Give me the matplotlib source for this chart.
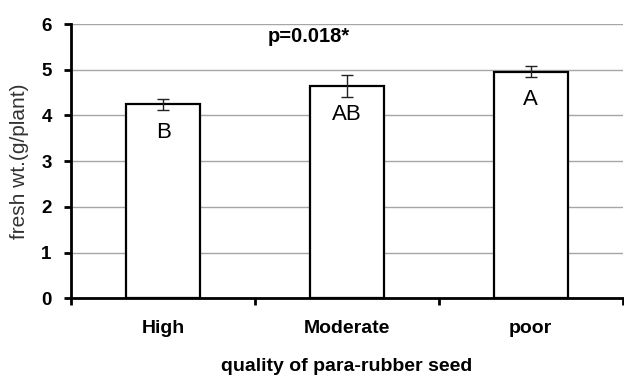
import numpy as np
import matplotlib.pyplot as plt
from matplotlib.ticker import FixedLocator

plt.rcParams['font.family'] = ['Liberation Sans', 'DejaVu Sans']

# seed quality groups, mean fresh weight and standard error
quality = ['High', 'Moderate', 'poor']
fresh_wt = [4.25, 4.65, 4.96]
sem = [0.12, 0.24, 0.12]
groups = ['B', 'AB', 'A']
p_text = 'p=0.018*'

fig = plt.figure(figsize=(6.24, 3.77), dpi=100)
ax = fig.add_axes([0.114, 0.209, 0.884, 0.727])

x = np.arange(len(quality))
ax.bar(x, fresh_wt, width=0.40, color='white', edgecolor='black',
       linewidth=1.6, zorder=3)
ax.errorbar(x, fresh_wt, yerr=sem, fmt='none', ecolor='#222222',
            elinewidth=1.0, capsize=4.5, capthick=1.0, zorder=4)

# significance letters just below each bar top
for xi, v, g in zip(x, fresh_wt, groups):
    ax.text(xi, v - 0.62, g, ha='center', va='center', fontsize=16,
            color='black', zorder=5)

ax.text(0.79, 5.74, p_text, ha='center', va='center', fontsize=14.5,
        fontweight='bold', zorder=5)

ax.set_xlim(-0.5, 2.5)
ax.set_ylim(0, 6)
ax.set_yticks(range(0, 7))
ax.yaxis.grid(True, color='#a6a6a6', linewidth=1.0, zorder=0)
ax.set_axisbelow(True)

ax.set_xticks(x)
ax.set_xticklabels(quality, fontsize=14, fontweight='bold')
ax.xaxis.set_minor_locator(FixedLocator([-0.5, 0.5, 1.5, 2.5]))
ax.tick_params(axis='x', which='major', length=0, pad=15.5)
ax.tick_params(axis='x', which='minor', length=5, width=2, direction='out')
ax.tick_params(axis='y', length=5, width=2, direction='out', pad=9,
               labelsize=13.5)
for lbl in ax.get_yticklabels():
    lbl.set_fontweight('bold')

for side in ['top', 'right']:
    ax.spines[side].set_visible(False)
for side in ['left', 'bottom']:
    ax.spines[side].set_linewidth(2)
    ax.spines[side].set_zorder(6)

ax.set_xlabel('quality of para-rubber seed', fontsize=14, fontweight='bold',
              labelpad=15)
ax.set_ylabel('fresh wt.(g/plant)', fontsize=15, color='#333333')
ax.yaxis.set_label_coords(-0.076, 0.5)

fig.savefig('out.png', dpi=100)
